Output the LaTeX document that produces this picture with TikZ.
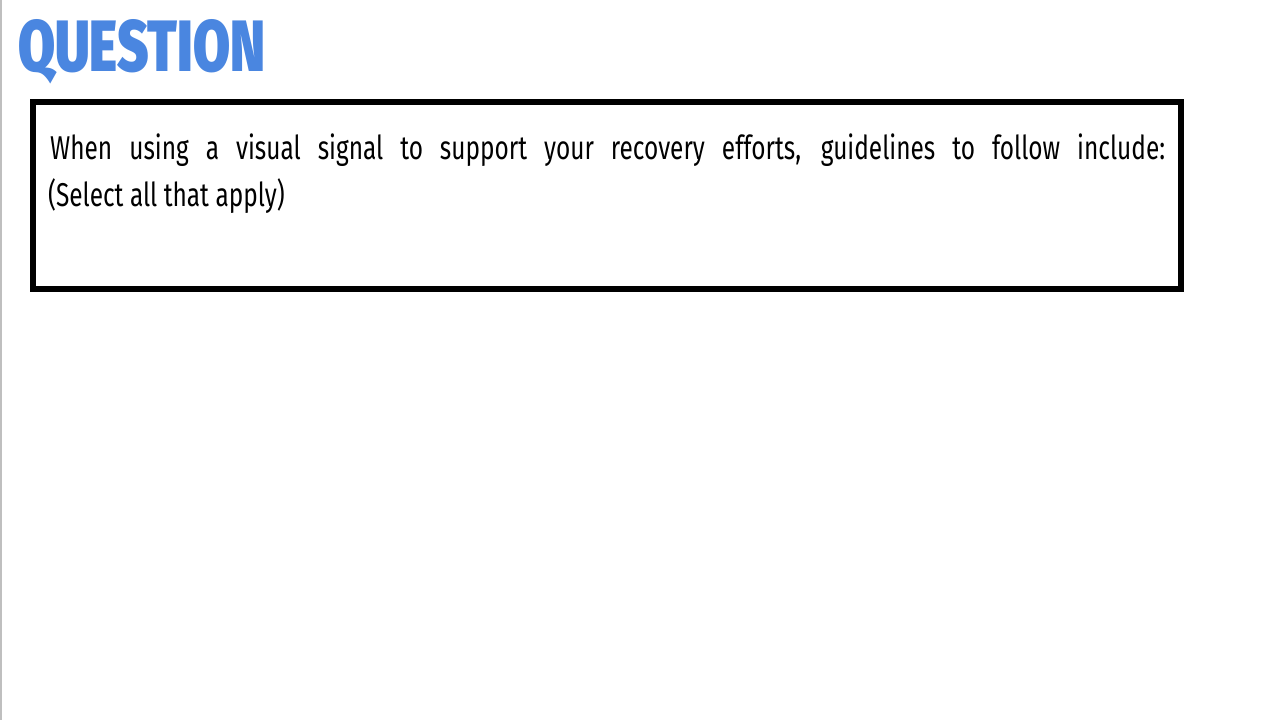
\documentclass[tikz,border=0pt]{standalone}
\usepackage{fontspec}
\setmainfont{Fira Sans}[FakeStretch=0.74]
\newfontfamily\titlefont{Fira Sans}[UprightFont=* Bold,BoldFont=* Black,FakeStretch=0.7]
\definecolor{qblue}{HTML}{4A86E0}
\begin{document}
\begin{tikzpicture}[x=1pt,y=1pt]
\useasboundingbox (0,0) rectangle (1280,720);
\fill[white] (0,0) rectangle (1280,720);
\draw[gray!50,line width=1.5pt] (0.75,0) -- (0.75,720);
\node[anchor=base west,inner sep=0pt,text=qblue] (title) at (18,648)
  {\resizebox{247pt}{52pt}{\titlefont\bfseries QUESTION}};
\draw[line width=6pt] (33,431) coordinate (bl) rectangle (1181,618) coordinate (tr);
\node[anchor=base west,inner sep=0pt,font=\fontsize{33}{47}\selectfont] (l1) at (50,560)
  {\makebox[1115pt][s]{When using a visual signal to support your recovery efforts, guidelines to follow include:}};
\node[anchor=base west,inner sep=0pt,font=\fontsize{33}{47}\selectfont] (l2) at (48,513)
  {(Select all that apply)};
\end{tikzpicture}
\end{document}
